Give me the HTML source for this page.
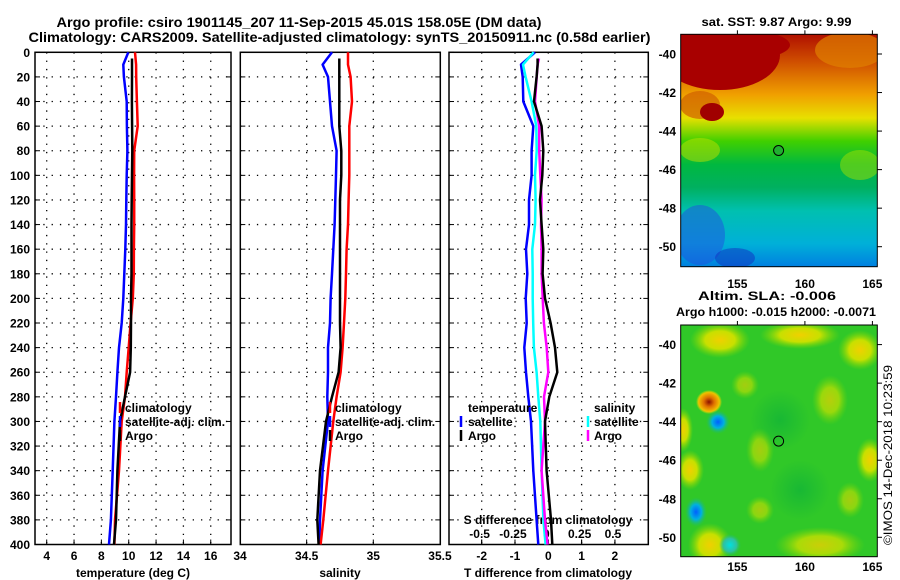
<!DOCTYPE html>
<html><head><meta charset="utf-8"><style>
html,body{margin:0;padding:0;background:#fff;}
svg{display:block;font-family:"Liberation Sans",sans-serif;font-weight:bold;}
</style></head><body>
<svg id="c" width="900" height="580" viewBox="0 0 900 580" xmlns="http://www.w3.org/2000/svg">
<defs>
<linearGradient id="sstg" x1="0" y1="0" x2="0" y2="1">
<stop offset="0" stop-color="#b01000"/><stop offset="0.12" stop-color="#d05000"/>
<stop offset="0.26" stop-color="#f0a000"/><stop offset="0.36" stop-color="#e8e000"/>
<stop offset="0.46" stop-color="#40d000"/><stop offset="0.56" stop-color="#00b840"/>
<stop offset="0.66" stop-color="#00b060"/><stop offset="0.76" stop-color="#00c0b0"/>
<stop offset="0.9" stop-color="#00b0d8"/><stop offset="1" stop-color="#0080e0"/>
</linearGradient>
<radialGradient id="blobR"><stop offset="0" stop-color="#900000"/><stop offset="0.6" stop-color="#a00000"/><stop offset="1" stop-color="#a00000" stop-opacity="0"/></radialGradient>
<radialGradient id="blobO"><stop offset="0" stop-color="#8a1000"/><stop offset="0.4" stop-color="#e07000"/><stop offset="0.8" stop-color="#f0c000"/><stop offset="1" stop-color="#e0e000" stop-opacity="0"/></radialGradient>
<radialGradient id="blobB"><stop offset="0" stop-color="#0060ff"/><stop offset="0.5" stop-color="#00b0e0"/><stop offset="1" stop-color="#20c060" stop-opacity="0"/></radialGradient>
<radialGradient id="blobC"><stop offset="0" stop-color="#00e0e0"/><stop offset="0.6" stop-color="#30c0a0"/><stop offset="1" stop-color="#20c060" stop-opacity="0"/></radialGradient>
<radialGradient id="blobY"><stop offset="0" stop-color="#f0d000"/><stop offset="0.5" stop-color="#c8e000"/><stop offset="1" stop-color="#80d800" stop-opacity="0"/></radialGradient>
<radialGradient id="blobG"><stop offset="0" stop-color="#00a840"/><stop offset="1" stop-color="#00a840" stop-opacity="0"/></radialGradient>
<clipPath id="m1clip"><rect x="680.7" y="34.3" width="196.6" height="232.4"/></clipPath>
<clipPath id="m2clip"><rect x="680.7" y="325" width="196.6" height="231.7"/></clipPath>
</defs>

<text x="299" y="27" text-anchor="middle" font-size="14" textLength="485" lengthAdjust="spacingAndGlyphs">Argo profile: csiro 1901145_207 11-Sep-2015 45.01S 158.05E (DM data)</text>
<text x="339.5" y="42" text-anchor="middle" font-size="14" textLength="622" lengthAdjust="spacingAndGlyphs">Climatology: CARS2009. Satellite-adjusted climatology: synTS_20150911.nc (0.58d earlier)</text>

<g id="plots"></g>

<!-- SST map -->
<g clip-path="url(#m1clip)">
<rect x="680.7" y="34.3" width="196.6" height="232.4" fill="url(#sstg)"/>
<ellipse cx="720" cy="55" rx="60" ry="35" fill="#a80000"/>
<ellipse cx="740" cy="45" rx="50" ry="15" fill="#a80000"/>
<ellipse cx="700" cy="105" rx="20" ry="14" fill="#d06000" opacity="0.7"/>
<ellipse cx="712" cy="112" rx="12" ry="9" fill="#a00000"/>
<ellipse cx="850" cy="50" rx="35" ry="18" fill="#e08000" opacity="0.7"/>
<ellipse cx="860" cy="165" rx="20" ry="15" fill="#a0e000" opacity="0.5"/>
<ellipse cx="700" cy="150" rx="20" ry="12" fill="#c0e000" opacity="0.5"/>
<ellipse cx="700" cy="235" rx="25" ry="30" fill="#2050e0" opacity="0.5"/>
<ellipse cx="735" cy="258" rx="20" ry="10" fill="#1030c0" opacity="0.5"/>
</g>
<rect x="680.7" y="34.3" width="196.6" height="232.4" fill="none" stroke="#000" stroke-width="1"/>
<circle cx="778.6" cy="150.5" r="5" fill="#20b030" stroke="#000" stroke-width="1"/>
<text x="776.5" y="26" text-anchor="middle" font-size="12" textLength="150" lengthAdjust="spacingAndGlyphs">sat. SST: 9.87 Argo: 9.99</text>

<!-- SLA map -->
<g clip-path="url(#m2clip)">
<rect x="680.7" y="325" width="196.6" height="232" fill="#30c828"/>
<ellipse cx="720" cy="340" rx="30" ry="18" fill="url(#blobY)"/>
<ellipse cx="800" cy="335" rx="40" ry="14" fill="url(#blobY)"/>
<ellipse cx="860" cy="350" rx="22" ry="20" fill="url(#blobY)"/>
<ellipse cx="683" cy="430" rx="10" ry="22" fill="url(#blobY)"/>
<ellipse cx="690" cy="470" rx="14" ry="20" fill="url(#blobY)"/>
<ellipse cx="870" cy="460" rx="14" ry="22" fill="url(#blobY)"/>
<ellipse cx="830" cy="400" rx="18" ry="25" fill="url(#blobY)" opacity="0.7"/>
<ellipse cx="760" cy="450" rx="14" ry="22" fill="url(#blobY)" opacity="0.6"/>
<ellipse cx="745" cy="385" rx="14" ry="14" fill="url(#blobY)" opacity="0.6"/>
<ellipse cx="850" cy="500" rx="14" ry="18" fill="url(#blobY)" opacity="0.6"/>
<ellipse cx="760" cy="510" rx="14" ry="14" fill="url(#blobY)" opacity="0.6"/>
<ellipse cx="710" cy="545" rx="22" ry="22" fill="url(#blobY)"/>
<ellipse cx="820" cy="545" rx="45" ry="18" fill="url(#blobY)" opacity="0.8"/>
<ellipse cx="780" cy="420" rx="30" ry="30" fill="url(#blobG)" opacity="0.5"/>
<ellipse cx="800" cy="490" rx="30" ry="30" fill="url(#blobG)" opacity="0.5"/>
<ellipse cx="709" cy="402" rx="13" ry="12" fill="url(#blobO)"/>
<ellipse cx="718" cy="422" rx="12" ry="12" fill="url(#blobB)"/>
<ellipse cx="696" cy="512" rx="11" ry="15" fill="url(#blobB)"/>
<ellipse cx="730" cy="545" rx="11" ry="11" fill="url(#blobC)"/>
</g>
<rect x="680.7" y="325" width="196.6" height="231.7" fill="none" stroke="#000" stroke-width="1"/>
<circle cx="778.6" cy="441.1" r="5" fill="none" stroke="#000" stroke-width="1"/>
<text x="767" y="300" text-anchor="middle" font-size="12" textLength="138" lengthAdjust="spacingAndGlyphs">Altim. SLA: -0.006</text>
<text x="776" y="316" text-anchor="middle" font-size="12" textLength="200" lengthAdjust="spacingAndGlyphs">Argo h1000: -0.015 h2000: -0.0071</text>
<text transform="translate(892,545) rotate(-90)" font-size="12" font-weight="normal" textLength="180" lengthAdjust="spacingAndGlyphs">©IMOS 14-Dec-2018 10:23:59</text>
</svg>
<script>
const depths = [0,10,20,40,60,80,100,120,140,160,180,200,220,240,260,280,300,340,380,400];
const argoDepths = [5,10,20,40,60,80,100,120,140,160,180,200,220,240,260,280,300,340,380,400];
const tempClim = [10.46,10.54,10.55,10.6,10.66,10.4,10.39,10.4,10.4,10.38,10.37,10.3,10.14,10.0,9.85,9.73,9.49,9.29,9.0,8.95];
const tempSat = [9.97,9.6,9.65,9.85,9.87,9.9,9.85,9.82,9.8,9.75,9.68,9.6,9.49,9.29,9.17,9.07,8.95,8.83,8.7,8.56];
const tempArgo = [10.24,10.24,10.24,10.23,10.25,10.26,10.24,10.22,10.2,10.2,10.2,10.17,10.17,10.15,10.1,9.73,9.36,9.17,9.07,8.92];
const salClim = [34.81,34.81,34.83,34.84,34.82,34.82,34.82,34.815,34.81,34.8,34.795,34.79,34.78,34.77,34.755,34.725,34.7,34.66,34.625,34.605];
const salSat = [34.69,34.62,34.66,34.675,34.69,34.725,34.72,34.715,34.71,34.7,34.69,34.68,34.675,34.66,34.66,34.655,34.66,34.62,34.6,34.595];
const salArgo = [34.745,34.745,34.745,34.745,34.745,34.76,34.76,34.75,34.75,34.75,34.75,34.75,34.75,34.755,34.74,34.69,34.645,34.6,34.58,34.59];
const dTSat = [-0.40,-0.82,-0.77,-0.75,-0.45,-0.50,-0.50,-0.58,-0.58,-0.67,-0.63,-0.68,-0.65,-0.72,-0.67,-0.60,-0.52,-0.45,-0.35,-0.30];
const dTArgo = [-0.32,-0.32,-0.35,-0.43,-0.2,-0.15,-0.18,-0.25,-0.2,-0.15,-0.17,-0.10,0.07,0.20,0.27,0.03,-0.10,-0.05,0.08,0.12];
const dSSat = [-0.11,-0.19,-0.17,-0.125,-0.09,-0.087,-0.10,-0.095,-0.10,-0.12,-0.117,-0.117,-0.113,-0.108,-0.088,-0.075,-0.06,-0.05,-0.037,-0.02];
const dSArgo = [-0.07,-0.08,-0.087,-0.10,-0.068,-0.068,-0.06,-0.05,-0.055,-0.05,-0.05,-0.042,-0.033,-0.012,0.0,-0.032,-0.025,-0.05,-0.025,-0.005];
const depthTicks = [0,20,40,60,80,100,120,140,160,180,200,220,240,260,280,300,320,340,360,380,400];
const tempTicks = [4,6,8,10,12,14,16];
const salTicks = [34,34.5,35,35.5];
const tdiffTicks = [-2,-1,0,1,2];
const sdiffTicks = [-0.5,-0.25,0,0.25,0.5];
const sdiffLabels = ["-0.5","-0.25","0","0.25","0.5"];
const latTicks = [-40,-42,-44,-46,-48,-50];
const lonTicks = [155,160,165];

const NS = "http://www.w3.org/2000/svg";
const svg = document.getElementById("c");
const g = document.getElementById("plots");
function mk(tag, attrs, parent) {
  const e = document.createElementNS(NS, tag);
  for (const k in attrs) e.setAttribute(k, attrs[k]);
  (parent || g).appendChild(e);
  return e;
}
const Y0 = 52.3, Y1 = 544.5;
function yPix(d) { return Y0 + d * (Y1 - Y0) / 400; }
function p1x(t) { return 46.7 + (t - 4) * 13.67; }
function p2x(s) { return 240 + (s - 34) * 133.3; }
function p3xT(t) { return 548.3 + t * 33.3; }
function p3xS(s) { return 548.3 + s * 133.3; }
function lonX(l) { return 680.7 + (l - 150.8) * 13.5; }
function lat1(l) { return 54 + (-40 - l) * 19.27; }
function lat2(l) { return 344.6 + (-40 - l) * 19.27; }

const panels = [[35, 231, "temperature-panel"], [240.3, 440.3, "salinity-panel"], [449, 648.3, "difference-panel"]];
const vgrid = [tempTicks.slice(), [34.5, 35], tdiffTicks];
const vfun = [p1x, p2x, p3xT];
panels.forEach((p, i) => {
  depthTicks.forEach(d => {
    const y = yPix(d);
    if (d > 0 && d < 400) {
      const l = mk("line", {x1: p[0], x2: p[1], y1: y, y2: y, stroke: "#000", "stroke-width": 1.3, "stroke-dasharray": "1.3 7"});
      
      
    }
    const t1 = mk("line", {x1: p[0], x2: p[0] + 5, y1: y, y2: y, stroke: "#000", "stroke-width": 1});
    
    
    const t2 = mk("line", {x1: p[1] - 5, x2: p[1], y1: y, y2: y, stroke: "#000", "stroke-width": 1});
    
    
  });
  vgrid[i].forEach(v => {
    const x = vfun[i](v);
    if (x > p[0] + 2 && x < p[1] - 2) {
      const l = mk("line", {x1: x, x2: x, y1: Y0, y2: Y1, stroke: "#000", "stroke-width": 1.3, "stroke-dasharray": "1.3 7"});
      
      
      const t = mk("line", {x1: x, x2: x, y1: Y1 - 5, y2: Y1, stroke: "#000", "stroke-width": 1});
      
      
    }
  });
  const r = mk("rect", {x: p[0], y: Y0, width: p[1] - p[0], height: Y1 - Y0, fill: "none", stroke: "#000", "stroke-width": 1.5});
  
  
});
depthTicks.forEach(d => {
  const t = mk("text", {x: 30, y: yPix(d) + 4.5, "text-anchor": "end", "font-size": 12});
  t.textContent = d;
  
  
});
function xlab(x, y, s, name, anchor) {
  const t = mk("text", {x: x, y: y, "text-anchor": anchor || "middle", "font-size": 12});
  t.textContent = s;
  
  
  return t;
}
tempTicks.forEach(v => xlab(p1x(v), 560, v, 'temperature-tick-label'));
salTicks.forEach(v => xlab(p2x(v), 560, v, 'salinity-tick-label'));
tdiffTicks.forEach(v => xlab(p3xT(v), 560, v, 'tdiff-tick-label'));
xlab(133, 577, "temperature (deg C)", 'temperature-axis-title');
xlab(340, 577, "salinity", 'salinity-axis-title');
xlab(548, 577, "T difference from climatology", 'tdiff-axis-title');
xlab(548, 524, "S difference from climatology", 'sdiff-axis-title');
sdiffTicks.forEach((v, i) => {
  const x = p3xS(v);
  xlab(x - 2, 538, sdiffLabels[i], 'sdiff-tick-label');
  const t = mk("line", {x1: x, x2: x, y1: Y1 - 5, y2: Y1, stroke: "#000", "stroke-width": 1});
  
  
});

function series(ds, vals, fx, color, name) {
  const pts = ds.map((d, i) => fx(vals[i]).toFixed(1) + "," + yPix(d).toFixed(1)).join(" ");
  const l = mk("polyline", {points: pts, fill: "none", stroke: color, "stroke-width": 2.5, "stroke-linejoin": "round"});
  
  
}
series(depths, tempSat, p1x, "#0000ff", 'temp-satellite-adj-line');
series(depths, tempClim, p1x, "#ff0000", 'temp-climatology-line');
series(argoDepths, tempArgo, p1x, "#000000", 'temp-argo-line');
series(depths, salSat, p2x, "#0000ff", 'sal-satellite-adj-line');
series(depths, salClim, p2x, "#ff0000", 'sal-climatology-line');
series(argoDepths, salArgo, p2x, "#000000", 'sal-argo-line');
series(depths, dTSat, p3xT, "#0000ff", 'tdiff-satellite-line');
series(depths, dSSat, p3xS, "#00ffff", 'sdiff-satellite-line');
series(argoDepths, dSArgo, p3xS, "#ff00ff", 'sdiff-argo-line');
series(argoDepths, dTArgo, p3xT, "#000000", 'tdiff-argo-line');

function legend(mx, tx, y, color, label, name) {
  if (color) {
    const m = mk("line", {x1: mx, x2: mx, y1: y - 10, y2: y + 1, stroke: color, "stroke-width": 2.5});
    
    
  }
  const t = mk("text", {x: tx, y: y, "font-size": 12});
  t.textContent = label;
  
  
}
legend(120, 125, 412, "#ff0000", "climatology", 'legend-climatology');
legend(120, 125, 426, "#0000ff", "satellite-adj. clim.", 'legend-satellite-adj');
legend(120, 125, 440, "#000000", "Argo", 'legend-argo');
legend(330, 335, 412, "#ff0000", "climatology", 'legend-sal-climatology');
legend(330, 335, 426, "#0000ff", "satellite-adj. clim.", 'legend-sal-satellite-adj');
legend(330, 335, 440, "#000000", "Argo", 'legend-sal-argo');
legend(0, 468, 412, null, "temperature", 'legend-temperature-heading');
legend(461, 468, 426, "#0000ff", "satellite", 'legend-tdiff-satellite');
legend(461, 468, 440, "#000000", "Argo", 'legend-tdiff-argo');
legend(0, 594, 412, null, "salinity", 'legend-salinity-heading');
legend(588, 594, 426, "#00ffff", "satellite", 'legend-sdiff-satellite');
legend(588, 594, 440, "#ff00ff", "Argo", 'legend-sdiff-argo');

[[lat1, 34.3, 266.7, 288, 'sst'], [lat2, 325, 556.7, 571, 'sla']].forEach(m => {
  latTicks.forEach(l => {
    const y = m[0](l);
    const t = mk("text", {x: 676, y: y + 4.5, "text-anchor": "end", "font-size": 12}, svg);
    t.textContent = l;
    
    
    const k = mk("line", {x1: 877.3, x2: 882, y1: y, y2: y, stroke: "#000", "stroke-width": 1}, svg);
    
    
  });
  lonTicks.forEach(l => {
    const x = lonX(l);
    const t = mk("text", {x: x, y: m[3], "text-anchor": "middle", "font-size": 12}, svg);
    t.textContent = l;
    
    
    const k = mk("line", {x1: x, x2: x, y1: m[1] - 4, y2: m[1], stroke: "#000", "stroke-width": 1}, svg);
    
    
  });
});
</script>
</body></html>
